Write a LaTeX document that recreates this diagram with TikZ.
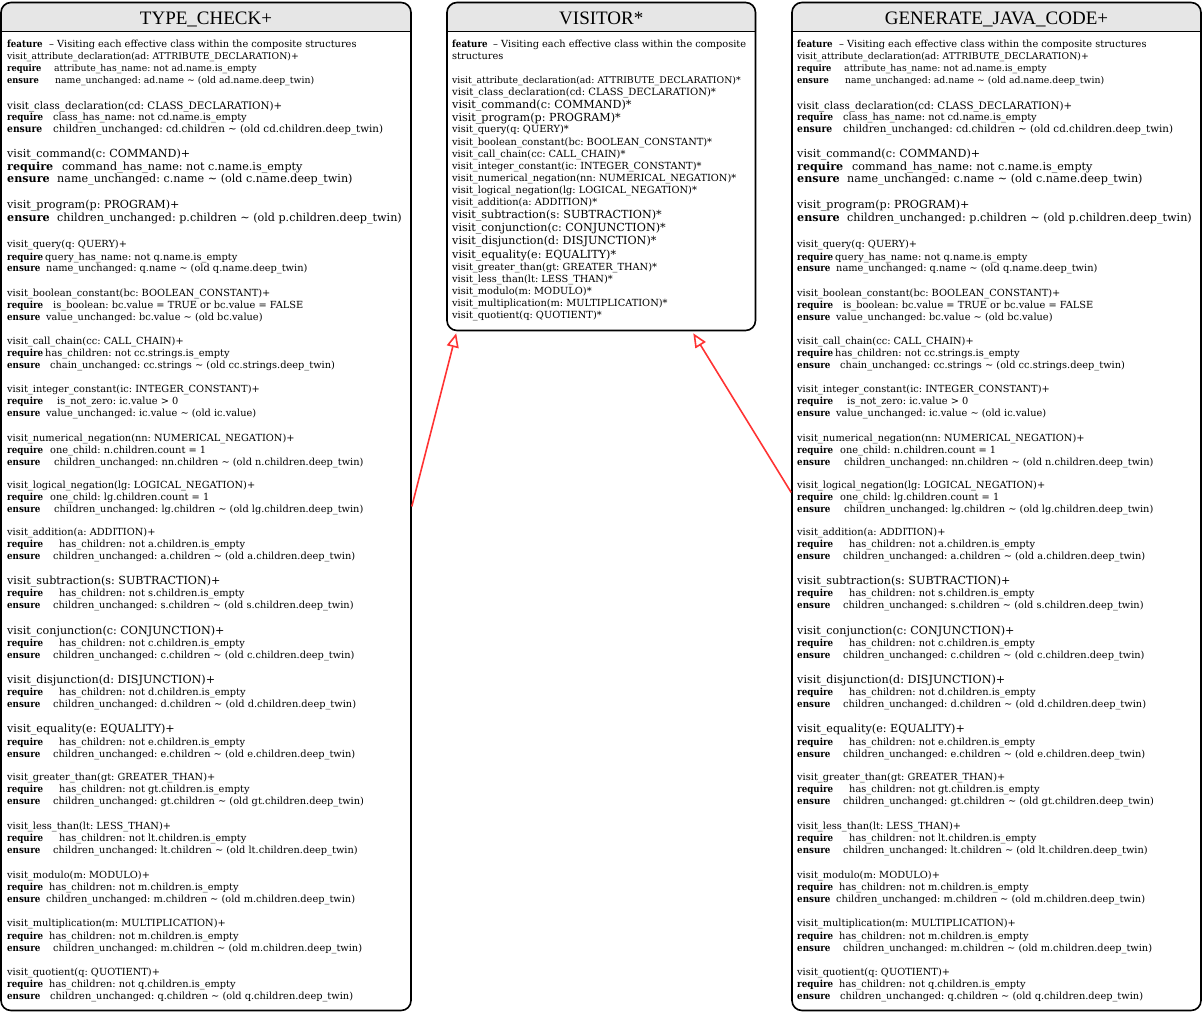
\documentclass[tikz,border=0pt]{standalone}
\usepackage{fontspec}
\usepackage{graphicx}
\setmainfont{DejaVu Serif}
\newfontfamily\titlefont{Liberation Serif}
\usetikzlibrary{arrows.meta}
\frenchspacing

\definecolor{headgray}{RGB}{230,230,230}
\definecolor{inheritred}{RGB}{255,51,51}

\pgfdeclarelayer{background}
\pgfsetlayers{background,main}

\newcommand{\bodysmall}{\fontsize{9.8}{11}\selectfont}
\newcommand{\bodylarge}{\fontsize{11.15}{13}\selectfont}
% bold keyword in a box of given width (narrowed in small lines)
\newcommand{\kw}[2]{\makebox[#1][l]{\scalebox{0.89}[1]{\textbf{#2}}}}
\newcommand{\kwl}[2]{\makebox[#1][l]{\textbf{#2}}}

\tikzset{
  classbox/.style={draw, line width=1.6pt, rounded corners=10pt, inner sep=0pt},
  classtitle/.style={anchor=base, inner sep=0pt, font=\titlefont\fontsize{19}{22}\selectfont},
  sm/.style={anchor=base west, inner sep=0pt, font=\bodysmall},
  lg/.style={anchor=base west, inner sep=0pt, font=\bodylarge},
  inheritarrow/.style={draw=inheritred, line width=1.6pt, -{Triangle[open, length=14pt, width=12pt]}}
}

% features of an effective visitor (same text in both classes)
\newcommand{\effectivebody}{%
  % attribute and class declarations
  \node[sm] (feat) at (7,47.3) {\kw{42pt}{feature}-- Visiting each effective class within the composite structures};
  \node[sm, font=\fontsize{9.3}{11}\selectfont] (attr) at (7,59.3) {visit\_attribute\_declaration(ad: ATTRIBUTE\_DECLARATION)+};
  \node[sm, font=\fontsize{9.3}{11}\selectfont] (attr-req) at (7,71.3) {\kw{47pt}{require}attribute\_has\_name: not ad.name.is\_empty};
  \node[sm, font=\fontsize{9.3}{11}\selectfont] (attr-ens) at (7,83.3) {\kw{48pt}{ensure}name\_unchanged: ad.name \textasciitilde{} (old ad.name.deep\_twin)};
  \node[sm, font=\fontsize{10.3}{12}\selectfont] (cls) at (7,109) {visit\_class\_declaration(cd: CLASS\_DECLARATION)+};
  \node[sm] (cls-req) at (7,120.7) {\kw{46pt}{require}class\_has\_name: not cd.name.is\_empty};
  \node[sm, font=\fontsize{10.3}{12}\selectfont] (cls-ens) at (7,132.3) {\kw{46pt}{ensure}children\_unchanged: cd.children \textasciitilde{} (old cd.children.deep\_twin)};
  % command and program
  \node[lg] (cmd) at (7,157.3) {visit\_command(c: COMMAND)+};
  \node[lg] (cmd-req) at (7,170) {\kwl{55pt}{require}command\_has\_name: not c.name.is\_empty};
  \node[lg] (cmd-ens) at (7,182.7) {\kwl{50pt}{ensure}name\_unchanged: c.name \textasciitilde{} (old c.name.deep\_twin)};
  \node[lg] (prg) at (7,208.3) {visit\_program(p: PROGRAM)+};
  \node[lg] (prg-ens) at (7,221) {\kwl{50pt}{ensure}children\_unchanged: p.children \textasciitilde{} (old p.children.deep\_twin)};
  % query and constants
  \node[sm] (qry) at (7,247.7) {visit\_query(q: QUERY)+};
  \node[sm] (qry-req) at (7,260) {\kw{38pt}{require}query\_has\_name: not q.name.is\_empty};
  \node[sm] (qry-ens) at (7,271.7) {\kw{39pt}{ensure}name\_unchanged: q.name \textasciitilde{} (old q.name.deep\_twin)};
  \node[sm] (bool) at (7,296) {visit\_boolean\_constant(bc: BOOLEAN\_CONSTANT)+};
  \node[sm] (bool-req) at (7,308.3) {\kw{46pt}{require}is\_boolean: bc.value = TRUE or bc.value = FALSE};
  \node[sm] (bool-ens) at (7,320) {\kw{39pt}{ensure}value\_unchanged: bc.value \textasciitilde{} (old bc.value)};
  \node[sm] (call) at (7,344.3) {visit\_call\_chain(cc: CALL\_CHAIN)+};
  \node[sm] (call-req) at (7,356.7) {\kw{38pt}{require}has\_children: not cc.strings.is\_empty};
  \node[sm] (call-ens) at (7,368.3) {\kw{43pt}{ensure}chain\_unchanged: cc.strings \textasciitilde{} (old cc.strings.deep\_twin)};
  \node[sm] (int) at (7,392.7) {visit\_integer\_constant(ic: INTEGER\_CONSTANT)+};
  \node[sm] (int-req) at (7,404.3) {\kw{50pt}{require}is\_not\_zero: ic.value > 0};
  \node[sm] (int-ens) at (7,416.7) {\kw{39pt}{ensure}value\_unchanged: ic.value \textasciitilde{} (old ic.value)};
  % negations
  \node[sm] (nneg) at (7,441) {visit\_numerical\_negation(nn: NUMERICAL\_NEGATION)+};
  \node[sm] (nneg-req) at (7,453.3) {\kw{43pt}{require}one\_child: n.children.count = 1};
  \node[sm] (nneg-ens) at (7,465) {\kw{47pt}{ensure}children\_unchanged: nn.children \textasciitilde{} (old n.children.deep\_twin)};
  \node[sm] (lneg) at (7,488) {visit\_logical\_negation(lg: LOGICAL\_NEGATION)+};
  \node[sm] (lneg-req) at (7,500.5) {\kw{43pt}{require}one\_child: lg.children.count = 1};
  \node[sm] (lneg-ens) at (7,512.3) {\kw{47pt}{ensure}children\_unchanged: lg.children \textasciitilde{} (old lg.children.deep\_twin)};
  % binary operations
  \node[sm] (add) at (7,535.3) {visit\_addition(a: ADDITION)+};
  \node[sm] (add-req) at (7,547.5) {\kw{52pt}{require}has\_children: not a.children.is\_empty};
  \node[sm] (add-ens) at (7,559.5) {\kw{46pt}{ensure}children\_unchanged: a.children \textasciitilde{} (old a.children.deep\_twin)};
  \node[lg] (sub) at (7,584.5) {visit\_subtraction(s: SUBTRACTION)+};
  \node[sm] (sub-req) at (7,596.8) {\kw{52pt}{require}has\_children: not s.children.is\_empty};
  \node[sm] (sub-ens) at (7,608.7) {\kw{46pt}{ensure}children\_unchanged: s.children \textasciitilde{} (old s.children.deep\_twin)};
  \node[lg] (conj) at (7,634) {visit\_conjunction(c: CONJUNCTION)+};
  \node[sm] (conj-req) at (7,646.3) {\kw{52pt}{require}has\_children: not c.children.is\_empty};
  \node[sm] (conj-ens) at (7,658.2) {\kw{46pt}{ensure}children\_unchanged: c.children \textasciitilde{} (old c.children.deep\_twin)};
  \node[lg] (disj) at (7,683.3) {visit\_disjunction(d: DISJUNCTION)+};
  \node[sm] (disj-req) at (7,695.5) {\kw{52pt}{require}has\_children: not d.children.is\_empty};
  \node[sm] (disj-ens) at (7,707.5) {\kw{46pt}{ensure}children\_unchanged: d.children \textasciitilde{} (old d.children.deep\_twin)};
  \node[lg] (eq) at (7,732.5) {visit\_equality(e: EQUALITY)+};
  \node[sm] (eq-req) at (7,745) {\kw{52pt}{require}has\_children: not e.children.is\_empty};
  \node[sm] (eq-ens) at (7,757) {\kw{46pt}{ensure}children\_unchanged: e.children \textasciitilde{} (old e.children.deep\_twin)};
  \node[sm] (gt) at (7,780.5) {visit\_greater\_than(gt: GREATER\_THAN)+};
  \node[sm] (gt-req) at (7,792.8) {\kw{52pt}{require}has\_children: not gt.children.is\_empty};
  \node[sm] (gt-ens) at (7,804.8) {\kw{46pt}{ensure}children\_unchanged: gt.children \textasciitilde{} (old gt.children.deep\_twin)};
  \node[sm] (lt) at (7,829.5) {visit\_less\_than(lt: LESS\_THAN)+};
  \node[sm] (lt-req) at (7,841.8) {\kw{52pt}{require}has\_children: not lt.children.is\_empty};
  \node[sm] (lt-ens) at (7,853.8) {\kw{46pt}{ensure}children\_unchanged: lt.children \textasciitilde{} (old lt.children.deep\_twin)};
  \node[sm] (mod) at (7,878) {visit\_modulo(m: MODULO)+};
  \node[sm] (mod-req) at (7,890.3) {\kw{42pt}{require}has\_children: not m.children.is\_empty};
  \node[sm] (mod-ens) at (7,902.3) {\kw{39pt}{ensure}children\_unchanged: m.children \textasciitilde{} (old m.children.deep\_twin)};
  \node[sm] (mul) at (7,926.7) {visit\_multiplication(m: MULTIPLICATION)+};
  \node[sm] (mul-req) at (7,939) {\kw{42pt}{require}has\_children: not m.children.is\_empty};
  \node[sm] (mul-ens) at (7,951) {\kw{46pt}{ensure}children\_unchanged: m.children \textasciitilde{} (old m.children.deep\_twin)};
  \node[sm] (quo) at (7,975) {visit\_quotient(q: QUOTIENT)+};
  \node[sm] (quo-req) at (7,987.3) {\kw{42pt}{require}has\_children: not q.children.is\_empty};
  \node[sm] (quo-ens) at (7,999.3) {\kw{43pt}{ensure}children\_unchanged: q.children \textasciitilde{} (old q.children.deep\_twin)};
}

\begin{document}
\begin{tikzpicture}[x=1pt, y=-1pt]
\useasboundingbox (0,0) rectangle (1202,1012);
\coordinate (hd) at (0,31.5);
\coordinate (tb) at (0,24.7);

% class boxes
\node[classbox, minimum width=410pt, minimum height=1008pt] (tc) at (206,506.5) {};
\node[classbox, minimum width=308.5pt, minimum height=328pt] (vis) at (601.25,166.5) {};
\node[classbox, minimum width=409pt, minimum height=1008pt] (gj) at (996.5,506.5) {};

% title bars
\begin{pgfonlayer}{background}
  \foreach \c in {tc, vis, gj}
    \fill[headgray] (\c.west |- hd) [rounded corners=10pt] -- (\c.north west) -- (\c.north east) [sharp corners] -- (\c.east |- hd) -- cycle;
\end{pgfonlayer}
\foreach \c in {tc, vis, gj}
  \draw[line width=1.6pt] (\c.west |- hd) -- (\c.east |- hd);

\node[classtitle] (tc-title) at (tc.center |- tb) {TYPE\_CHECK+};
\node[classtitle] (vis-title) at (vis.center |- tb) {VISITOR*};
\node[classtitle] (gj-title) at (gj.center |- tb) {GENERATE\_JAVA\_CODE+};

% deferred features of VISITOR
\node[sm] (vis-feat) at (452,47.7) {\kw{41pt}{feature}-- Visiting each effective class within the composite};
\node[sm] (vis-feat2) at (452,59.3) {structures};
\node[sm, font=\fontsize{9.3}{11}\selectfont] (vis-attr) at (452,83.3) {visit\_attribute\_declaration(ad: ATTRIBUTE\_DECLARATION)*};
\node[sm, font=\fontsize{10}{11}\selectfont] (vis-cls) at (452,95.3) {visit\_class\_declaration(cd: CLASS\_DECLARATION)*};
\node[lg] (vis-cmd) at (452,108.7) {visit\_command(c: COMMAND)*};
\node[lg] (vis-prg) at (452,121.3) {visit\_program(p: PROGRAM)*};
\node[sm] (vis-qry) at (452,132.7) {visit\_query(q: QUERY)*};
\node[sm] (vis-bool) at (452,145.3) {visit\_boolean\_constant(bc: BOOLEAN\_CONSTANT)*};
\node[sm] (vis-call) at (452,157.3) {visit\_call\_chain(cc: CALL\_CHAIN)*};
\node[sm] (vis-int) at (452,169.3) {visit\_integer\_constant(ic: INTEGER\_CONSTANT)*};
\node[sm] (vis-nneg) at (452,181.5) {visit\_numerical\_negation(nn: NUMERICAL\_NEGATION)*};
\node[sm] (vis-lneg) at (452,193.7) {visit\_logical\_negation(lg: LOGICAL\_NEGATION)*};
\node[sm] (vis-add) at (452,205.7) {visit\_addition(a: ADDITION)*};
\node[lg] (vis-sub) at (452,218.3) {visit\_subtraction(s: SUBTRACTION)*};
\node[lg] (vis-conj) at (452,231.5) {visit\_conjunction(c: CONJUNCTION)*};
\node[lg] (vis-disj) at (452,244.5) {visit\_disjunction(d: DISJUNCTION)*};
\node[lg] (vis-eq) at (452,258) {visit\_equality(e: EQUALITY)*};
\node[sm] (vis-gt) at (452,270.3) {visit\_greater\_than(gt: GREATER\_THAN)*};
\node[sm] (vis-lt) at (452,282.2) {visit\_less\_than(lt: LESS\_THAN)*};
\node[sm] (vis-mod) at (452,294.2) {visit\_modulo(m: MODULO)*};
\node[sm] (vis-mul) at (452,306.5) {visit\_multiplication(m: MULTIPLICATION)*};
\node[sm] (vis-quo) at (452,318.3) {visit\_quotient(q: QUOTIENT)*};

% effective features of both descendants
\begin{scope}[name prefix=tc-]
  \effectivebody
\end{scope}
\begin{scope}[shift={(790,0)}, name prefix=gj-]
  \effectivebody
\end{scope}

% inheritance
\draw[inheritarrow] (tc.east) -- ([xshift=10pt, yshift=-2pt]vis.south west);
\draw[inheritarrow] ([yshift=14pt]gj.west) -- ([xshift=-63pt, yshift=-2pt]vis.south east);
\end{tikzpicture}
\end{document}
